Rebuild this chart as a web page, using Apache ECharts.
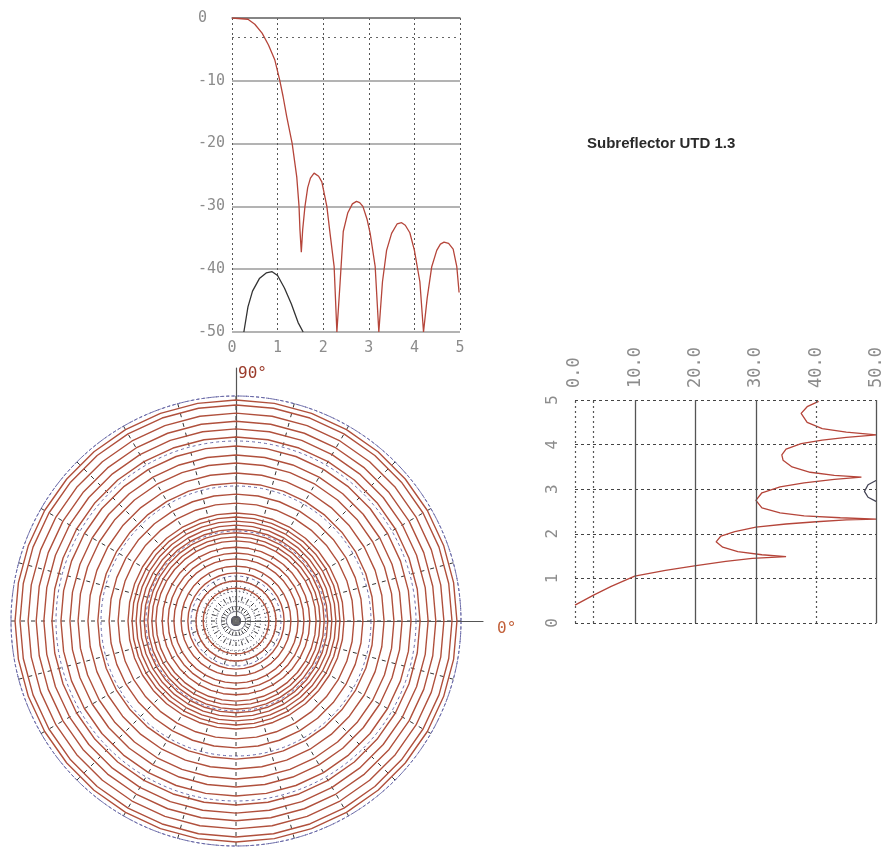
<!DOCTYPE html>
<html><head><meta charset="utf-8">
<script src="https://cdn.jsdelivr.net/npm/echarts@6/dist/echarts.min.js"></script>
<style>html,body{margin:0;padding:0;background:#fff}#c{width:885px;height:850px}</style>
</head><body><div id="c"></div>
<script>
// ---- top chart: pattern (dB) vs theta ----
const topRedTheta=[0,0.35,0.5,0.66,0.8,0.94,1.05,1.12,1.2,1.32,1.42,1.47,1.49,1.52,1.55,1.6,1.66,1.72,1.8,1.9,1.97,2.08,2.15,2.24,2.3,2.37,2.44,2.54,2.64,2.73,2.8,2.87,2.96,3.03,3.14,3.22,3.3,3.39,3.5,3.62,3.72,3.8,3.9,4.0,4.12,4.2,4.28,4.38,4.49,4.57,4.65,4.75,4.85,4.93,4.98];
const topRedDb=[0,-0.2,-1,-2.4,-4.3,-6.7,-10,-12.5,-15.7,-20,-25.3,-30,-33.7,-37.3,-33.7,-30,-27,-25.5,-24.7,-25.2,-26.1,-30,-34.3,-39.6,-50,-42.2,-34,-31,-29.6,-29.2,-29.4,-30,-32,-34.3,-39.6,-50,-42,-37,-34.3,-32.8,-32.6,-33,-34.2,-37,-42,-50,-44.6,-39.6,-37,-36,-35.7,-35.9,-36.8,-39.6,-43.7];
const topDarkTheta=[0.26,0.35,0.45,0.6,0.75,0.88,1.0,1.15,1.3,1.45,1.56];
const topDarkDb=[-50,-46,-43.5,-41.5,-40.6,-40.4,-41,-43,-45.5,-48.5,-50];
const topRefLine=[-3];
// ---- right chart: attenuation vs theta (rotated) ----
const sideRedAtt=[0,3,6,9.9,15,19.8,25,29.4,35,31,27,24.5,23.4,24.2,26.5,30,35,40,45,50,44,38,34,31,30,31,34,38,43,47.5,43,39,36,34.5,34.3,35,37.5,41,45,50,45,41,38.5,37.5,38.5,40.4];
const sideRedTheta=[0.4,0.62,0.82,1.05,1.18,1.28,1.38,1.45,1.49,1.53,1.6,1.7,1.82,1.95,2.05,2.15,2.22,2.27,2.31,2.33,2.36,2.4,2.47,2.58,2.75,2.92,3.05,3.14,3.22,3.27,3.31,3.38,3.5,3.65,3.77,3.9,4.02,4.1,4.16,4.22,4.28,4.36,4.5,4.7,4.85,4.97];
const sideDarkAtt=[50,48.6,48,48.6,50];
const sideDarkTheta=[2.72,2.82,2.95,3.1,3.2];
const sideSolidLines=[10,20,30,50];
const sideDottedLines=[0,3,40];
// ---- polar contour plot ----
const ringRadii=[0.73,0.89,1.07,1.22,1.38,1.51,1.64,1.78,1.87,1.96,2.04,2.13,2.22,2.31,2.4,2.62,2.82,3.07,3.29,3.51,3.69,3.89,4.09,4.27,4.44,4.62,4.8,4.91];
const ringAngles=[0,10,20,30,40,50,60,70,80,90,100,110,120,130,140,150,160,170,180,190,200,210,220,230,240,250,260,270,280,290,300,310,320,330,340,350,360];

const zip=(a,b)=>a.map((v,i)=>[v,b[i]]);
const mono='DejaVu Sans Mono';
const gray='#8c8c8c';
const red='#b5453a';
const ringColor='#b0503c';
const chart=echarts.init(document.getElementById('c'));
const series=[];
series.push({type:'line',xAxisIndex:0,yAxisIndex:0,data:zip(topDarkTheta,topDarkDb),showSymbol:false,lineStyle:{color:'#333',width:1.3},silent:true});
series.push({type:'line',xAxisIndex:0,yAxisIndex:0,data:zip(topRedTheta,topRedDb),showSymbol:false,lineStyle:{color:red,width:1.3},silent:true,
  markLine:{silent:true,symbol:['none','none'],label:{show:false},lineStyle:{color:'#666',type:[2,4],width:1},data:topRefLine.map(v=>({yAxis:v}))}});
const sideMarks=sideSolidLines.map(v=>({xAxis:v,lineStyle:{color:'#555',type:'solid',width:1.3}})).concat(sideDottedLines.map(v=>({xAxis:v,lineStyle:{color:'#555',type:[2,3],width:1.2}})));
series.push({type:'line',xAxisIndex:2,yAxisIndex:2,data:zip(sideRedAtt,sideRedTheta),showSymbol:false,lineStyle:{color:red,width:1.3},silent:true,
  markLine:{silent:true,symbol:['none','none'],label:{show:false},data:sideMarks}});
series.push({type:'line',xAxisIndex:2,yAxisIndex:2,data:zip(sideDarkAtt,sideDarkTheta),showSymbol:false,lineStyle:{color:'#445',width:1.3},silent:true});
ringRadii.forEach(r=>{
  series.push({type:'line',coordinateSystem:'polar',polarIndex:0,data:ringAngles.map(a=>[r,a]),showSymbol:false,lineStyle:{color:ringColor,width:1.4},silent:true});
});
series.push({type:'scatter',coordinateSystem:'polar',polarIndex:0,data:[[0,0]],symbol:'rect',symbolSize:6,itemStyle:{color:'#777'},silent:true});
const option={
  animation:false,
  backgroundColor:'#fff',
  title:{text:'Subreflector UTD 1.3',left:582,top:131,textStyle:{fontFamily:'Liberation Sans',fontWeight:'bold',fontSize:15,color:'#2a2a2a'}},
  grid:[
    {left:232,top:18,width:228,height:314},
    {left:236,top:368,width:247,height:253},
    {left:575,top:400,width:303,height:223}
  ],
  xAxis:[
    {gridIndex:0,type:'value',min:0,max:5,interval:1,axisLine:{show:true,lineStyle:{color:'#777',width:1.5}},axisTick:{show:false},
     axisLabel:{color:gray,fontFamily:mono,fontSize:15,margin:9},splitLine:{show:true,lineStyle:{color:'#555',type:[2,3]}}},
    {gridIndex:1,type:'value',min:0,max:1,axisLine:{show:true,onZero:false,lineStyle:{color:'#555',width:1.2}},axisTick:{show:false},axisLabel:{show:false},splitLine:{show:false},
     name:'0°',nameGap:14,nameTextStyle:{color:'#c2603a',fontSize:16,fontFamily:mono,verticalAlign:'top',padding:[0,0,0,0]}},
    {gridIndex:2,type:'value',position:'top',min:0,max:50,interval:10,axisLine:{show:false},axisTick:{show:false},
     axisLabel:{rotate:90,color:gray,fontFamily:mono,fontSize:17,margin:12,formatter:v=>v.toFixed(1)},splitLine:{show:false}}
  ],
  yAxis:[
    {gridIndex:0,type:'value',min:-50,max:0,interval:10,axisLine:{show:false},axisTick:{show:false},
     axisLabel:{color:gray,fontFamily:mono,fontSize:15,align:'left',margin:34},splitLine:{show:true,lineStyle:{color:'#9a9a9a',width:1.5}}},
    {gridIndex:1,type:'value',min:0,max:1,axisLine:{show:true,onZero:false,lineStyle:{color:'#555',width:1.2}},axisTick:{show:false},axisLabel:{show:false},splitLine:{show:false},
     name:'90°',nameLocation:'end',nameGap:-6,nameTextStyle:{color:'#9b3b2b',fontSize:16,fontFamily:mono,align:'left',verticalAlign:'middle',padding:[0,0,0,2]}},
    {gridIndex:2,type:'value',min:0,max:5,interval:1,axisLine:{show:false},axisTick:{show:false},
     axisLabel:{rotate:90,color:gray,fontFamily:mono,fontSize:16,margin:14},splitLine:{show:true,lineStyle:{color:'#444',type:[3,3]}}}
  ],
  polar:[{center:[236,621],radius:225},{center:[236,621],radius:40}],
  angleAxis:[
    {polarIndex:0,type:'value',min:0,max:360,interval:15,startAngle:0,clockwise:false,axisLine:{show:true,lineStyle:{color:'#6a6aa8',type:[3,2]}},
     axisTick:{show:false},axisLabel:{show:false},splitLine:{show:true,lineStyle:{color:'#333',type:[4,6]}}},
    {polarIndex:1,type:'value',min:0,max:360,interval:7.5,startAngle:0,clockwise:false,axisLine:{show:true,lineStyle:{color:'#667',type:[1,3]}},
     axisTick:{show:false},axisLabel:{show:false},splitLine:{show:true,lineStyle:{color:'#556',type:[1,4]}}}
  ],
  radiusAxis:[
    {polarIndex:0,type:'value',min:0,max:5,interval:1,axisLine:{show:false},axisTick:{show:false},axisLabel:{show:false},splitLine:{show:true,lineStyle:{color:'#6a6aa8',type:[3,3]}}},
    {polarIndex:1,type:'value',min:0,max:1,interval:0.25,axisLine:{show:false},axisTick:{show:false},axisLabel:{show:false},splitLine:{show:true,lineStyle:{color:'#556',type:[1,3]}}}
  ],
  series:series
};
chart.setOption(option);
</script></body></html>
